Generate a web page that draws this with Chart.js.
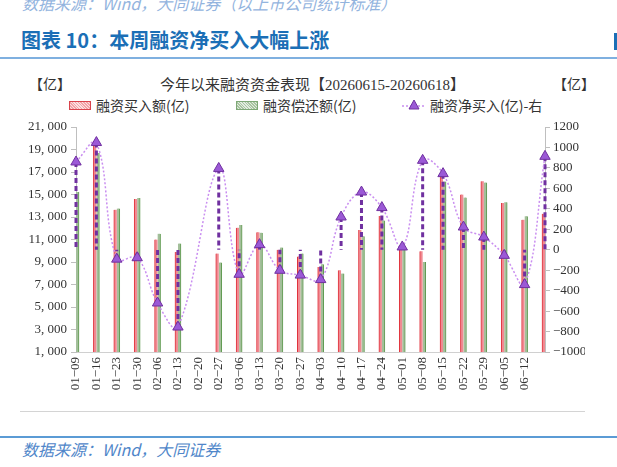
<!DOCTYPE html>
<html>
<head>
<meta charset="utf-8">
<script src="https://cdn.jsdelivr.net/npm/chart.js@4.4.1/dist/chart.umd.min.js"></script>
<style>
  body { margin: 0; width: 617px; height: 467px; position: relative; overflow: hidden; background: #fff; font-family: "Noto Sans CJK SC", sans-serif; }
  .abs { position: absolute; white-space: nowrap; }
  #topnote { top: -9px; left: 22px; font-size: 16px; font-style: italic; color: #93b4de; }
  #title { top: 25px; left: 21px; font-size: 20px; font-weight: bold; color: #1b6fb6; }
  #rule1 { top: 57px; left: 0; width: 617px; height: 2px; background: #7fb0e0; }
  #edge { top: 33px; left: 614px; width: 3px; height: 17px; background: #1b6fb6; }
  #ctitle { top: 73px; left: 160px; font-size: 15px; color: #333; font-family: "Liberation Serif", "Noto Sans CJK SC", serif; }
  .unit { top: 73px; font-size: 14px; color: #333; }
  .leg { top: 95px; font-size: 14px; color: #333; display: flex; align-items: center; }
  .sw { width: 20px; height: 7px; margin-right: 5px; }
  #sw1 { border: 1px solid #d9434c; background: repeating-linear-gradient(45deg, #f3a3a8 0 1px, #fbe0e2 1px 2px); }
  #sw2 { border: 1px solid #7ea876; background: repeating-linear-gradient(45deg, #a9c4a2 0 1px, #e2ece0 1px 2px); }
  #rule2 { top: 411px; left: 20px; width: 565px; height: 1px; background: #d4d4d4; }
  #rule3 { top: 436px; left: 0; width: 617px; height: 2px; background: #5b9bd5; }
  #source { top: 437px; left: 22px; font-size: 16px; font-style: italic; color: #4f86c9; }
  #chart { position: absolute; left: 0; top: 60px; }
</style>
</head>
<body>
<div class="abs" id="topnote">数据来源：Wind，大同证券（以上市公司统计标准）</div>
<div class="abs" id="title">图表 10：本周融资净买入大幅上涨</div>
<div class="abs" id="rule1"></div>
<div class="abs" id="edge"></div>
<div class="abs" id="ctitle">今年以来融资资金表现【20260615-20260618】</div>
<div class="abs unit" style="left:29px">【亿】</div>
<div class="abs unit" style="left:553px">【亿】</div>
<div class="abs leg" style="left:69px"><div class="sw" id="sw1"></div>融资买入额(亿)</div>
<div class="abs leg" style="left:236px"><div class="sw" id="sw2"></div>融资偿还额(亿)</div>
<div class="abs leg" style="left:402px">
  <svg width="24" height="12" style="margin-right:4px"><line x1="0" y1="7" x2="24" y2="7" stroke="#c98ef0" stroke-width="1.5" stroke-dasharray="2,2"/><polygon points="12,1 17,10 7,10" fill="#9b59d6" stroke="#7030a0" stroke-width="1"/></svg>融资净买入(亿)-右
</div>
<canvas id="chart" width="585" height="350"></canvas>
<div class="abs" id="rule2"></div>
<div class="abs" id="rule3"></div>
<div class="abs" id="source">数据来源：Wind，大同证券</div>

<script>
// weekly dates (02-20 is the Spring Festival week, no trading)
const categories = ['01-09','01-16','01-23','01-30','02-06','02-13','02-20','02-27','03-06','03-13','03-20','03-27',
  '04-03','04-10','04-17','04-24','05-01','05-08','05-15','05-22','05-29','06-05','06-12','06-19'];

const buyAmount = [16100, 19750, 13650, 14600, 11000, 9900, null, 9750, 12050, 11650, 10080, 9500,
  8550, 8260, 11850, 13080, 10310, 9950, 16880, 15000, 16180, 14250, 12760, 13300];

const repayAmount = [15220, 18700, 13750, 14690, 11520, 10640, null, 8950, 12280, 11610, 10280, 9750,
  8800, 7970, 11290, 12700, 10280, 9000, 16150, 14730, 16060, 14310, 13070, 12400];

const netBuy = [858, 1048, -92, -78, -521, -756, null, 795, -240, 50, -201, -248,
  -292, 320, 564, 412, 27, 874, 744, 222, 124, -55, -341, 913];

const leftTicks = { min: 1000, max: 21000, step: 2000 };
const rightTicks = { min: -1000, max: 1200, step: 200 };

const numFont = { family: '"Liberation Serif", serif', size: 13 };

function fmtLeft(v) {
  const th = Math.floor(v / 1000);
  const rest = String(v % 1000).padStart(3, '0');
  return th + ', ' + rest;
}

// dashed drop lines from net buy points down to zero on the right axis
const dropLines = {
  id: 'dropLines',
  beforeDatasetDraw(chart, args) {
    if (args.index !== 2) return;
    const meta = chart.getDatasetMeta(2);
    const zero = chart.scales.y1.getPixelForValue(0);
    const ctx = chart.ctx;
    ctx.save();
    ctx.strokeStyle = '#7030a0';
    ctx.lineWidth = 3;
    ctx.setLineDash([5, 3]);
    meta.data.forEach((pt, i) => {
      if (netBuy[i] == null) return;
      ctx.beginPath();
      ctx.moveTo(pt.x, pt.y);
      ctx.lineTo(pt.x, zero);
      ctx.stroke();
    });
    ctx.restore();
  }
};

new Chart(document.getElementById('chart'), {
  data: {
    labels: categories,
    datasets: [
      {
        type: 'bar', label: '融资买入额(亿)', data: buyAmount, yAxisID: 'y', order: 1,
        backgroundColor: '#f08a92', borderColor: '#e0303a', borderWidth: { left: 1, right: 0, top: 0, bottom: 0 },
        barThickness: 3, clip: 0
      },
      {
        type: 'bar', label: '融资偿还额(亿)', data: repayAmount, yAxisID: 'y', order: 1,
        backgroundColor: '#a3bf9a', borderColor: '#5f9a50', borderWidth: { left: 0, right: 1, top: 0, bottom: 0 },
        barThickness: 3, clip: 0
      },
      {
        type: 'line', label: '融资净买入(亿)-右', data: netBuy, yAxisID: 'y1', order: 0,
        borderColor: '#c98ef0', borderWidth: 1.5, borderDash: [2, 2], tension: 0.4, spanGaps: true,
        pointStyle: 'triangle', pointRadius: 6, pointBackgroundColor: '#9b59d6', pointBorderColor: '#7030a0',
        pointBorderWidth: 1, clip: false
      }
    ]
  },
  options: {
    responsive: false,
    animation: false,
    events: [],
    layout: { padding: { top: 67, left: 0, right: 0, bottom: 0 } },
    plugins: { legend: { display: false }, tooltip: { enabled: false } },
    scales: {
      x: {
        offset: false,
        grid: { display: false, drawTicks: false },
        border: { color: '#d0d0d0' },
        ticks: {
          autoSkip: false, maxRotation: 90, minRotation: 90, padding: 5, color: '#333', font: numFont,
          callback: (v, i) => i === categories.length - 1 ? '' : categories[i].replace('-', '\u2212')
        },
        afterFit: s => { s.height = 58; }
      },
      y: {
        position: 'left', min: leftTicks.min, max: leftTicks.max,
        grid: { drawOnChartArea: false, drawTicks: true, tickLength: 5, color: '#bfbfbf' },
        border: { color: '#bfbfbf' },
        ticks: { stepSize: leftTicks.step, padding: 4, color: '#333', font: numFont, callback: v => fmtLeft(v) },
        afterFit: s => { s.width = 76; }
      },
      y1: {
        position: 'right', min: rightTicks.min, max: rightTicks.max,
        grid: { drawOnChartArea: false, drawTicks: true, tickLength: 5, color: '#bfbfbf' },
        border: { color: '#bfbfbf' },
        ticks: { stepSize: rightTicks.step, padding: 3, color: '#333', font: numFont,
          callback: v => v < 0 ? '\u2212' + Math.abs(v) : String(v) },
        afterFit: s => { s.width = 40; }
      }
    }
  },
  plugins: [dropLines]
});
</script>
</body>
</html>
